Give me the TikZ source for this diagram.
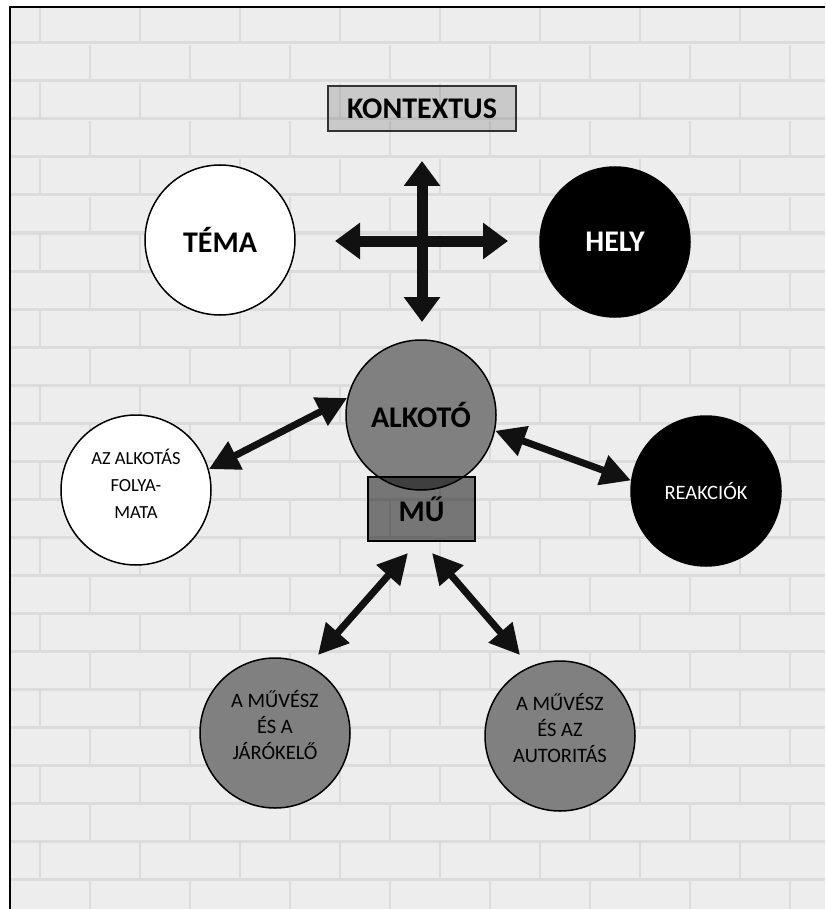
\documentclass[tikz,border=0pt]{standalone}
\usepackage{fontspec}
\setmainfont{Carlito}
\usetikzlibrary{arrows.meta}
\definecolor{brick}{HTML}{EDEDED}
\definecolor{mortar}{HTML}{DCDCDC}
\definecolor{midgrey}{HTML}{808080}
\definecolor{nearblack}{HTML}{111111}
\tikzset{
  bigtxt/.style={font=\fontsize{30}{32}\selectfont\bfseries},
  sidetxt/.style={font=\fontsize{18.5}{27}\selectfont, align=center},
  lowtxt/.style={font=\fontsize{20.5}{26}\selectfont, align=center},
  ring/.style={circle, draw=black, line width=1.5pt, minimum size=150pt, inner sep=0pt},
  dbl/.style={line width=7pt, draw=nearblack,
    {Triangle[length=30pt,width=30pt]}-{Triangle[length=30pt,width=30pt]}},
  crossarrow/.style={line width=11pt, draw=nearblack,
    {Triangle[length=25pt,width=35pt]}-{Triangle[length=25pt,width=35pt]}},
}
\begin{document}
\begin{tikzpicture}[x=1pt,y=-1pt]
\useasboundingbox (0,0) rectangle (825,909);
% background wall
\fill[white] (0,0) rectangle (825,909);
\fill[brick] (10,7) rectangle (825,909);
\begin{scope}
\clip (10,7) rectangle (825,909);
\foreach \r in {0,...,23}{
  \pgfmathsetmacro{\yy}{7+38*\r}
  \draw[mortar, line width=3pt] (10,\yy+36) -- (825,\yy+36);
  \pgfmathsetmacro{\off}{mod(\r,2)==0 ? 40 : 90}
  \foreach \k in {0,...,8}{
    \draw[mortar, line width=2.5pt] (\off+100*\k,\yy) -- (\off+100*\k,\yy+36);
  }
}
\end{scope}
% frame
\draw[black, line width=2.5pt] (10,909) -- (10,7) -- (825,7);

% context box
\node[draw=black!80, line width=1.2pt, fill=black, fill opacity=0.15, text opacity=1,
      minimum width=188pt, minimum height=45pt, bigtxt, inner sep=0pt] (kontextus) at (422,108.5) {KONTEXTUS};

% cross of arrows
\coordinate (cc) at (422,241);
\coordinate (ctop) at (422,161);
\coordinate (cbot) at (422,322);
\coordinate (cleft) at (335,241);
\coordinate (cright) at (508,241);
\draw[crossarrow] (ctop) -- (cbot);
\draw[crossarrow] (cleft) -- (cright);

% upper circles
\node[ring, fill=white, bigtxt] (tema) at (220,240) {TÉMA};
\node[ring, fill=black, text=white, bigtxt] (hely) at (615,242) {HELY};

% central
\node[ring, fill=midgrey, bigtxt] (alkoto) at (421,415) {ALKOTÓ};
\node[draw=black, line width=1.5pt, fill=black, fill opacity=0.5, text opacity=1,
      minimum width=107pt, minimum height=64pt, inner sep=0pt, bigtxt] (mu) at (421.5,509) {MŰ};

% side circles
\node[ring, fill=white] (folyamat) at (136,490) {};
\node[sidetxt] (folyamattxt) at ([yshift=6pt]folyamat.center) {AZ ALKOTÁS\\FOLYA-\\MATA};
\node[ring, fill=black, text=white, font=\fontsize{20.5}{24}\selectfont] (reakciok) at (706,491) {REAKCIÓK};

% lower circles
\node[ring, fill=midgrey] (jarokelo) at (275,733) {};
\node[lowtxt] (jarokelotxt) at ([yshift=8pt]jarokelo.center) {A MŰVÉSZ\\ÉS A\\JÁRÓKELŐ};
\node[ring, fill=midgrey] (autoritas) at (560,736) {};
\node[lowtxt] (autoritastxt) at ([yshift=8pt]autoritas.center) {A MŰVÉSZ\\ÉS AZ\\AUTORITÁS};

% arrows
\draw[dbl] (folyamat.16) -- (alkoto.167);
\draw[dbl] (alkoto.-12) -- (reakciok.172);
\coordinate (muL) at (408,553);
\coordinate (muR) at (432,553);
\coordinate (jarTop) at (318,655);
\coordinate (autTop) at (520,655);
\draw[dbl] (muL) -- (jarTop);
\draw[dbl] (muR) -- (autTop);
\end{tikzpicture}
\end{document}
